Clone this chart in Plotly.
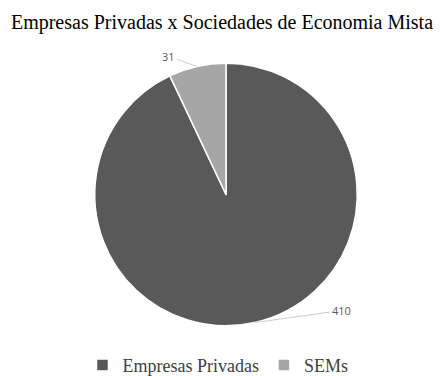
import math
import plotly.graph_objects as go

categories = ["Empresas Privadas", "SEMs"]
values = [410, 31]
colors = ["#595959", "#a6a6a6"]
title_text = "Empresas Privadas x Sociedades de Economia Mista"

W, H = 443, 376
OFF = 8  # page body margin
cx, cy, r = 226 - OFF, 197 - OFF, 133  # pie centre / radius in pixels

fig = go.Figure(go.Pie(
    labels=categories, values=values, sort=False, direction="clockwise", rotation=0,
    marker=dict(colors=colors, line=dict(color="white", width=1.5)),
    textinfo="none", hoverinfo="label+value",
    domain=dict(x=[(cx - r) / W, (cx + r) / W], y=[1 - (cy + r) / H, 1 - (cy - r) / H]),
))

label_offsets = [(86, -12), (-28, -10)]
total = sum(values)
cum = 0
annotations = []
for v, (ax, ay) in zip(values, label_offsets):
    mid = (cum + v / 2) / total * 2 * math.pi
    cum += v
    px = cx + r * math.sin(mid)
    py = cy - r * math.cos(mid)
    annotations.append(dict(
        x=px / W, y=1 - py / H, xref="paper", yref="paper", text=str(v),
        showarrow=True, arrowhead=0, arrowwidth=0.8, arrowcolor="#bfbfbf",
        ax=ax, ay=ay, font=dict(family="Open Sans", size=11, color="#595959"),
    ))

fig.update_layout(
    width=W, height=H, paper_bgcolor="white", plot_bgcolor="white",
    margin=dict(l=0, r=0, t=0, b=0),
    title=dict(text=title_text, x=(222 - OFF) / W, xanchor="center", y=1 - (22 - OFF) / H,
               yanchor="middle",
               font=dict(family="Liberation Serif", size=20, color="#000000")),
    legend=dict(orientation="h", x=(218 - OFF) / W, xanchor="center", y=1 - (370 - OFF) / H,
                yanchor="middle",
                font=dict(family="Liberation Serif", size=18, color="#404040"),
                itemwidth=30),
    annotations=annotations,
)
fig.write_html("out.html")
